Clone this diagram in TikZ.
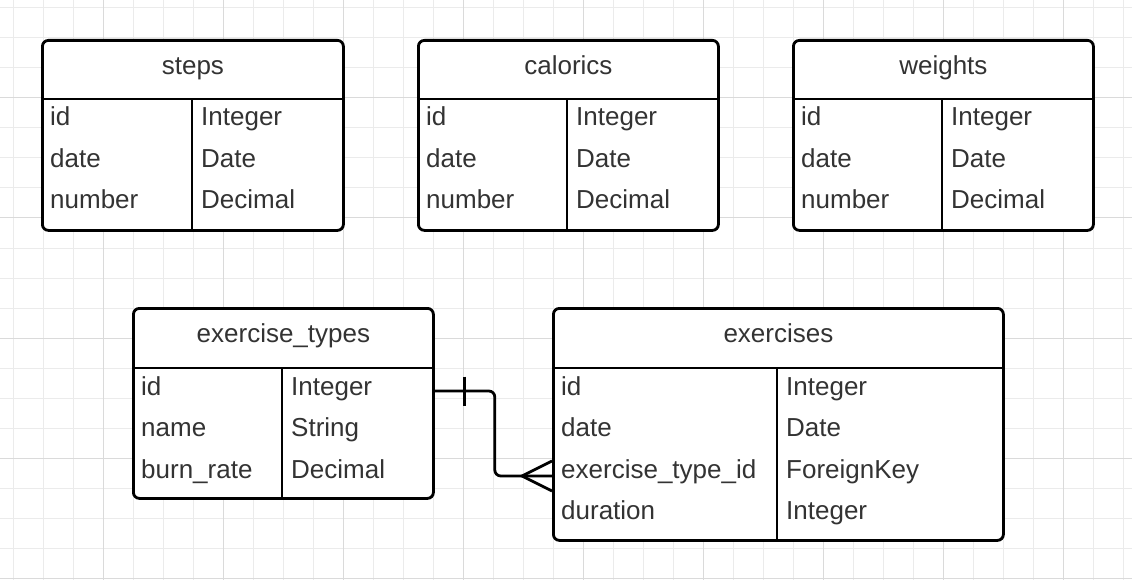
\documentclass[tikz,border=0pt]{standalone}
\usepackage{fontspec}
\setmainfont{Liberation Sans}
\definecolor{gridminor}{HTML}{EBEBEB}
\definecolor{gridmajor}{HTML}{DADADA}
\definecolor{txt}{HTML}{333333}
\tikzset{
  tbl/.style={draw=black, line width=2.8pt, rounded corners=6pt, fill=white, inner sep=0pt, anchor=north west},
  sepline/.style={draw=black, line width=2.8pt},
  hdr/.style={anchor=base, inner sep=0pt, text=txt, font=\fontsize{26}{30}\selectfont},
  cell/.style={anchor=base west, inner sep=0pt, text=txt, font=\fontsize{26}{30}\selectfont},
  rel/.style={draw=black, line width=2.8pt},
  gminor/.style={draw=gridminor, line width=1pt},
  gmajor/.style={draw=gridmajor, line width=1pt},
}
% name, x, y, w, h, header height, divider offset, title, rows
\newcommand\ertable[9]{%
  \node[tbl, minimum width=#4pt, minimum height=#5pt] (#1) at (#2,#3) {};
  \draw[sepline] ([yshift=-#6pt]#1.north west) -- ([yshift=-#6pt]#1.north east);
  \draw[sepline] ([xshift=#7pt,yshift=-#6pt]#1.north west) -- ([xshift=#7pt]#1.south west);
  \node[hdr] (#1-title) at ([yshift=-35.5pt]#1.north) {#8};
  \foreach \l/\r [count=\i] in {#9} {
    \pgfmathsetmacro\yy{-(#6+27+41.5*(\i-1))}
    \node[cell] (#1-l\i) at ([xshift=9pt, yshift=\yy pt]#1.north west) {\l};
    \node[cell] (#1-r\i) at ([xshift=#7pt+9pt, yshift=\yy pt]#1.north west) {\r};
  }
}
\begin{document}
\begin{tikzpicture}[x=1pt, y=-1pt]
  \useasboundingbox (0,0) rectangle (1132,580);
  \fill[white] (0,0) rectangle (1132,580);
  % grid
  \foreach \x in {13,43,...,1132} \draw[gminor] (\x,0) -- (\x,580);
  \foreach \y in {8,38,...,580} \draw[gminor] (0,\y) -- (1132,\y);
  \foreach \x in {103,223,...,1132} \draw[gmajor] (\x,0) -- (\x,580);
  \foreach \y in {98,218,...,580} \draw[gmajor] (0,\y) -- (1132,\y);

  \ertable{steps}{41}{39}{301}{190}{60}{151}{steps}{id/Integer, date/Date, number/Decimal}
  \ertable{calorics}{417}{39}{300}{190}{60}{150}{calorics}{id/Integer, date/Date, number/Decimal}
  \ertable{weights}{792}{39}{300}{190}{60}{150}{weights}{id/Integer, date/Date, number/Decimal}
  \ertable{etypes}{132}{307}{300}{190}{61}{150}{exercise\_types}{id/Integer, name/String, burn\_rate/Decimal}
  \ertable{exercises}{552}{307}{450}{232}{61}{225}{exercises}{id/Integer, date/Date, exercise\_type\_id/ForeignKey, duration/Integer}

  % relationship
  \coordinate (src) at ([yshift=-84pt]etypes.north east);
  \coordinate (dst) at ([yshift=-169pt]exercises.north west);
  \draw[rel, rounded corners=6pt] (src) -- ++(60,0) |- (dst);
  \draw[rel] ([xshift=30pt, yshift=14.5pt]src) -- ([xshift=30pt, yshift=-14.5pt]src);
  \draw[rel] ([yshift=15pt]dst) -- ([xshift=-30pt]dst) -- ([yshift=-15pt]dst);
\end{tikzpicture}
\end{document}
